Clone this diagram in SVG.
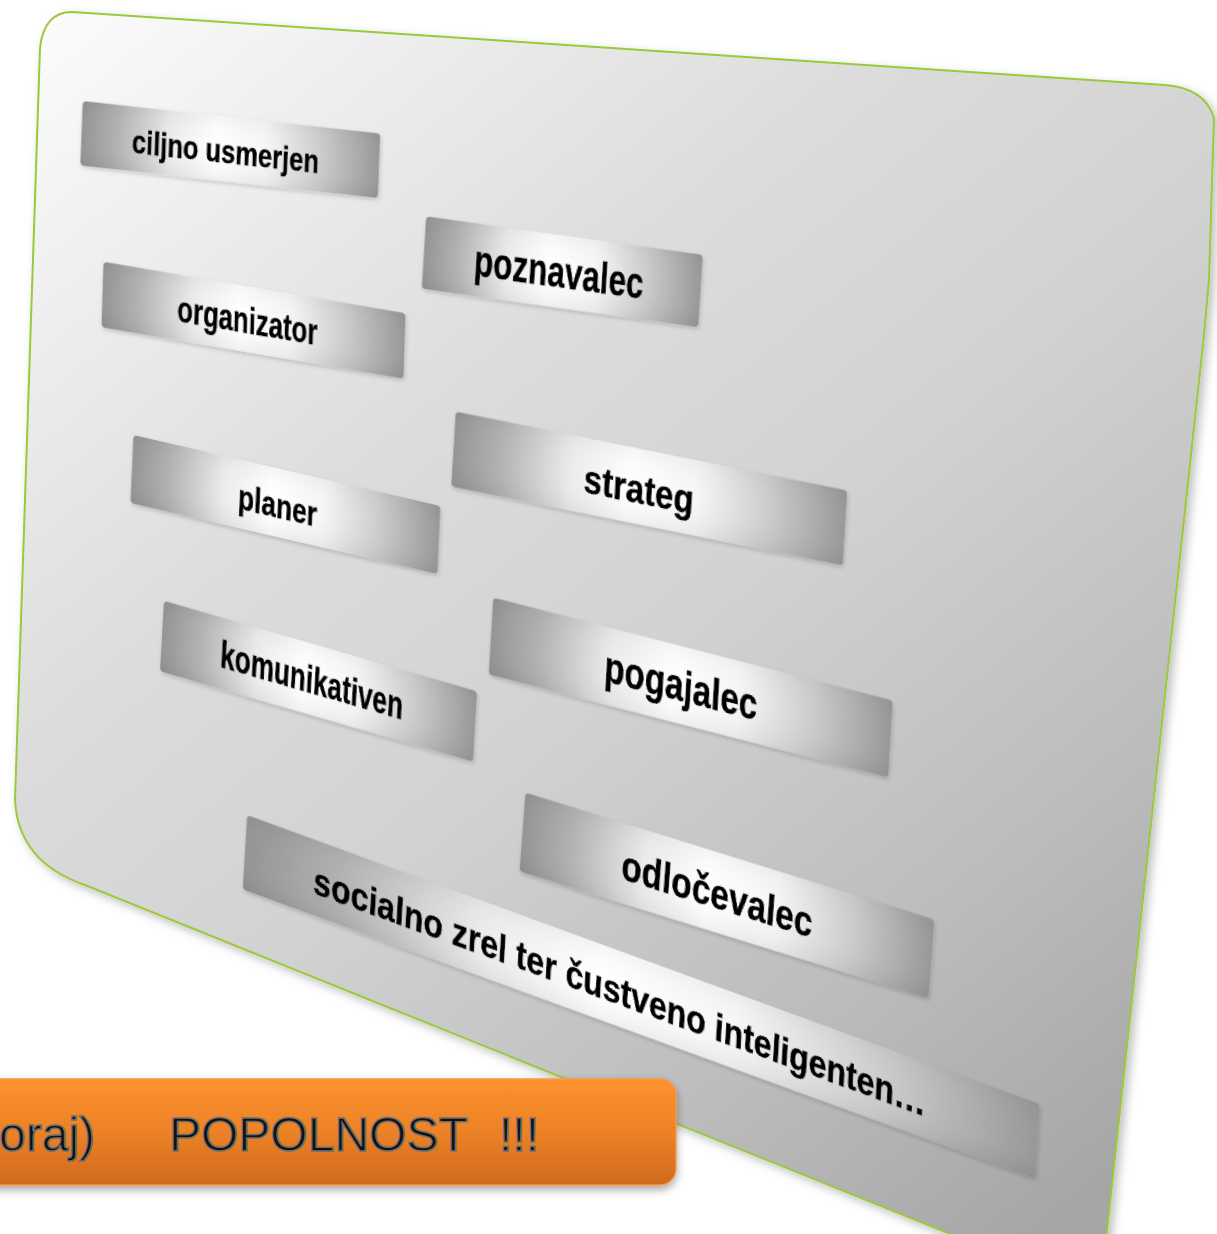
<svg xmlns="http://www.w3.org/2000/svg" width="1217" height="1234" viewBox="0 0 1217 1234">
  <defs>
    <linearGradient id="boardFill" gradientUnits="userSpaceOnUse" x1="60" y1="20" x2="1050" y2="1230">
      <stop offset="0" stop-color="#fbfbfb"/>
      <stop offset="0.1" stop-color="#f2f2f2"/>
      <stop offset="0.35" stop-color="#dcdcdc"/>
      <stop offset="0.55" stop-color="#d2d2d2"/>
      <stop offset="0.8" stop-color="#bcbcbc"/>
      <stop offset="1" stop-color="#a6a6a6"/>
    </linearGradient>
    <linearGradient id="silver" x1="0" y1="0" x2="1" y2="0">
      <stop offset="0" stop-color="#949494"/>
      <stop offset="0.12" stop-color="#b2b2b2"/>
      <stop offset="0.3" stop-color="#ececec"/>
      <stop offset="0.45" stop-color="#ffffff"/>
      <stop offset="0.62" stop-color="#f6f6f6"/>
      <stop offset="0.8" stop-color="#cdcdcd"/>
      <stop offset="1" stop-color="#989898"/>
    </linearGradient>
    <linearGradient id="silverShade" x1="0" y1="0" x2="0" y2="1">
      <stop offset="0" stop-color="#000" stop-opacity="0.04"/>
      <stop offset="0.5" stop-color="#fff" stop-opacity="0"/>
      <stop offset="1" stop-color="#000" stop-opacity="0.06"/>
    </linearGradient>
    <linearGradient id="orangeFill" x1="0" y1="0" x2="0" y2="1">
      <stop offset="0" stop-color="#fd922f"/>
      <stop offset="0.5" stop-color="#ec8226"/>
      <stop offset="1" stop-color="#d0691e"/>
    </linearGradient>
    <filter id="boardShadow" x="-5%" y="-5%" width="112%" height="112%">
      <feDropShadow dx="4" dy="4" stdDeviation="5" flood-color="#000" flood-opacity="0.25"/>
    </filter>
    <filter id="barShadow" x="-5%" y="-20%" width="110%" height="150%">
      <feDropShadow dx="0" dy="4" stdDeviation="4" flood-color="#000" flood-opacity="0.35"/>
    </filter>
    <filter id="lblShadow" x="-5%" y="-20%" width="110%" height="150%">
      <feDropShadow dx="1" dy="2" stdDeviation="2" flood-color="#000" flood-opacity="0.18"/>
    </filter>
  </defs>
  <style>
    .bar { fill: url(#silver); }
    .shade { fill: url(#silverShade); }
    .lbl { font-family: "Liberation Sans", Arial, sans-serif; font-weight: bold; fill: #000; stroke: #000; stroke-width: 0.6; text-anchor: middle; }
    .big { font-family: "Liberation Sans", Arial, sans-serif; font-size: 48px; fill: #111; stroke: #6e6e6e; stroke-width: 1.5; }
  </style>

  <rect x="0" y="0" width="1217" height="1234" fill="#ffffff"/>

  <g id="board">
    <path d="M 72 12 L 1165 85 Q 1205 88 1214 118 L 1209 280 Q 1204 340 1197 400 L 1106 1240 L 965 1240 L 85 885 Q 18 862 15 800 L 40 48 Q 44 12 72 12 Z" fill="url(#boardFill)" stroke="#9cc83e" stroke-width="2" filter="url(#boardShadow)"/>
  </g>

  <g id="label-ciljno" filter="url(#lblShadow)" transform="matrix(0.994 0.1086 -0.0387 0.9992 230.25 149.5)">
    <rect class="bar" x="-149.6" y="-32.3" width="299.3" height="64.6" rx="4"/>
    <rect class="shade" x="-149.6" y="-32.3" width="299.3" height="64.6" rx="4"/>
    <text class="lbl" x="-4.7" y="14" font-size="33" textLength="188" lengthAdjust="spacingAndGlyphs">ciljno usmerjen</text>
  </g>

  <g id="label-poznavalec" filter="url(#lblShadow)" transform="matrix(0.9903 0.1379 -0.0619 0.9981 562.25 271.75)">
    <rect class="bar" x="-139.6" y="-36.3" width="279.2" height="72.6" rx="4"/>
    <rect class="shade" x="-139.6" y="-36.3" width="279.2" height="72.6" rx="4"/>
    <text class="lbl" x="-3.3" y="15.7" font-size="44" textLength="171" lengthAdjust="spacingAndGlyphs">poznavalec</text>
  </g>

  <g id="label-organizator" filter="url(#lblShadow)" transform="matrix(0.9857 0.1681 -0.0305 0.9995 253.5 320.25)">
    <rect class="bar" x="-153.2" y="-32.8" width="306.4" height="65.5" rx="4"/>
    <rect class="shade" x="-153.2" y="-32.8" width="306.4" height="65.5" rx="4"/>
    <text class="lbl" x="-6.2" y="13.8" font-size="37" textLength="142" lengthAdjust="spacingAndGlyphs">organizator</text>
  </g>

  <g id="label-planer" filter="url(#lblShadow)" transform="matrix(0.9743 0.2253 -0.0441 0.999 285.5 504.5)">
    <rect class="bar" x="-157.6" y="-34" width="315.1" height="68.1" rx="4"/>
    <rect class="shade" x="-157.6" y="-34" width="315.1" height="68.1" rx="4"/>
    <text class="lbl" x="-8" y="15.3" font-size="35" textLength="81" lengthAdjust="spacingAndGlyphs">planer</text>
  </g>

  <g id="label-strateg" filter="url(#lblShadow)" transform="matrix(0.9802 0.1978 -0.0599 0.9982 649.25 488.5)">
    <rect class="bar" x="-199.7" y="-37.6" width="399.4" height="75.1" rx="4"/>
    <rect class="shade" x="-199.7" y="-37.6" width="399.4" height="75.1" rx="4"/>
    <text class="lbl" x="-10.5" y="16.6" font-size="40" textLength="112" lengthAdjust="spacingAndGlyphs">strateg</text>
  </g>

  <g id="label-komunikativen" filter="url(#lblShadow)" transform="matrix(0.9607 0.2778 -0.0566 0.9984 318.5 681.25)">
    <rect class="bar" x="-162.9" y="-35.3" width="325.8" height="70.6" rx="4"/>
    <rect class="shade" x="-162.9" y="-35.3" width="325.8" height="70.6" rx="4"/>
    <text class="lbl" x="-7" y="13.7" font-size="38" textLength="190" lengthAdjust="spacingAndGlyphs">komunikativen</text>
  </g>

  <g id="label-pogajalec" filter="url(#lblShadow)" transform="matrix(0.9683 0.2496 -0.0583 0.9983 690.75 687.5)">
    <rect class="bar" x="-206.3" y="-38.6" width="412.6" height="77.1" rx="4"/>
    <rect class="shade" x="-206.3" y="-38.6" width="412.6" height="77.1" rx="4"/>
    <text class="lbl" x="-10.1" y="16.1" font-size="44" textLength="158" lengthAdjust="spacingAndGlyphs">pogajalec</text>
  </g>

  <g id="label-odlocevalec" filter="url(#lblShadow)" transform="matrix(0.9549 0.2965 -0.0757 0.9971 727 895.5)">
    <rect class="bar" x="-214.2" y="-39.6" width="428.3" height="79.2" rx="4"/>
    <rect class="shade" x="-214.2" y="-39.6" width="428.3" height="79.2" rx="4"/>
    <text class="lbl" x="-10.3" y="15.6" font-size="42" textLength="200" lengthAdjust="spacingAndGlyphs">odločevalec</text>
  </g>

  <g id="label-socialno" filter="url(#lblShadow)" transform="matrix(0.9395 0.3426 -0.0603 0.9981 641.25 996.75)">
    <rect class="bar" x="-421.8" y="-37.3" width="843.5" height="74.6" rx="4"/>
    <rect class="shade" x="-421.8" y="-37.3" width="843.5" height="74.6" rx="4"/>
    <text class="lbl" x="-22.7" y="16" font-size="39" textLength="652" lengthAdjust="spacingAndGlyphs">socialno zrel ter čustveno inteligenten…</text>
  </g>

  <g id="banner">
    <rect x="-30" y="1079" width="706" height="106" rx="16" fill="url(#orangeFill)" stroke="#f59a4a" stroke-width="1.5" filter="url(#barShadow)"/>
    <text class="big" y="1151"><tspan x="-1">oraj)</tspan><tspan x="169">POPOLNOST</tspan><tspan x="499">!!!</tspan></text>
  </g>
</svg>
